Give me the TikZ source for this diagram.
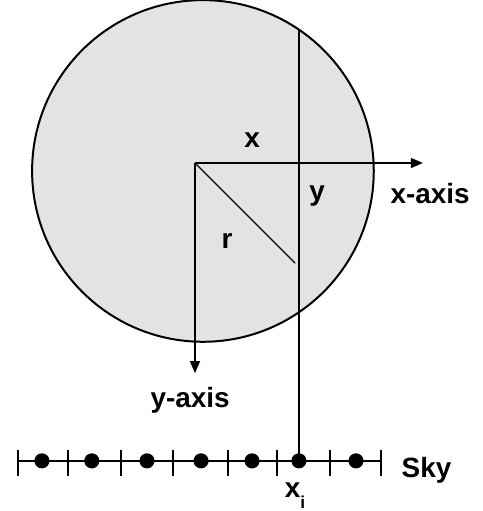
\documentclass[tikz,border=0pt]{standalone}
\usepackage{fontspec}
\setmainfont{Liberation Sans}
\usetikzlibrary{arrows.meta,calc}
\definecolor{diskgray}{RGB}{227,227,227}
\tikzset{lbl/.style={font=\fontsize{21}{25}\selectfont\bfseries,inner sep=0pt,anchor=base},
  axis/.style={-{Triangle[length=9pt,width=7.5pt]}}}

\begin{document}
\begin{tikzpicture}[line width=1pt]
\useasboundingbox (-5.159,-9.207) rectangle (7.620,4.313);
\coordinate (O) at (0,0); \coordinate (C) at (0.21,-0.21);
\coordinate (X) at (6.03,0); \coordinate (Y) at (0,-5.56);
\coordinate (R) at (2.65,-2.65);
\coordinate (T) at (2.75,3.53); \coordinate (S) at (2.75,-7.88);
\coordinate (L) at (-4.68,-7.88); \coordinate (E) at (4.92,-7.88);
\filldraw[fill=diskgray,line width=1.5pt] (C) circle (4.52);
\draw[axis] (O)--(X);
\draw[axis] (O)--(Y);
\draw (O)--(R);
\draw (T)--(S);
\draw (L)--(E);
\foreach \t in {-4.68,-3.36,-1.96,-0.58,0.87,2.17,3.57,4.92}
  \draw (\t,-7.59)--(\t,-8.28);
\foreach \d in {-4.05,-2.73,-1.27,0.16,1.51,2.75,4.26}
  \fill (\d,-7.88) circle (0.2);
\node[lbl] (lx) at (1.51,0.42) {x};
\node[lbl] (ly) at (3.23,-1.0) {y};
\node[lbl] (lr) at (0.85,-2.25) {r};
\node[lbl] (xaxis) at (6.22,-1.06) {x-axis};
\node[lbl] (yaxis) at (-0.13,-6.48) {y-axis};
\node[lbl,anchor=base west] (sky) at (5.45,-8.33) {Sky};
\node[lbl,anchor=base west] (xi) at (2.36,-8.84) {x\raisebox{-8.5pt}{\fontsize{13}{13}\selectfont i}};
\end{tikzpicture}
\end{document}
